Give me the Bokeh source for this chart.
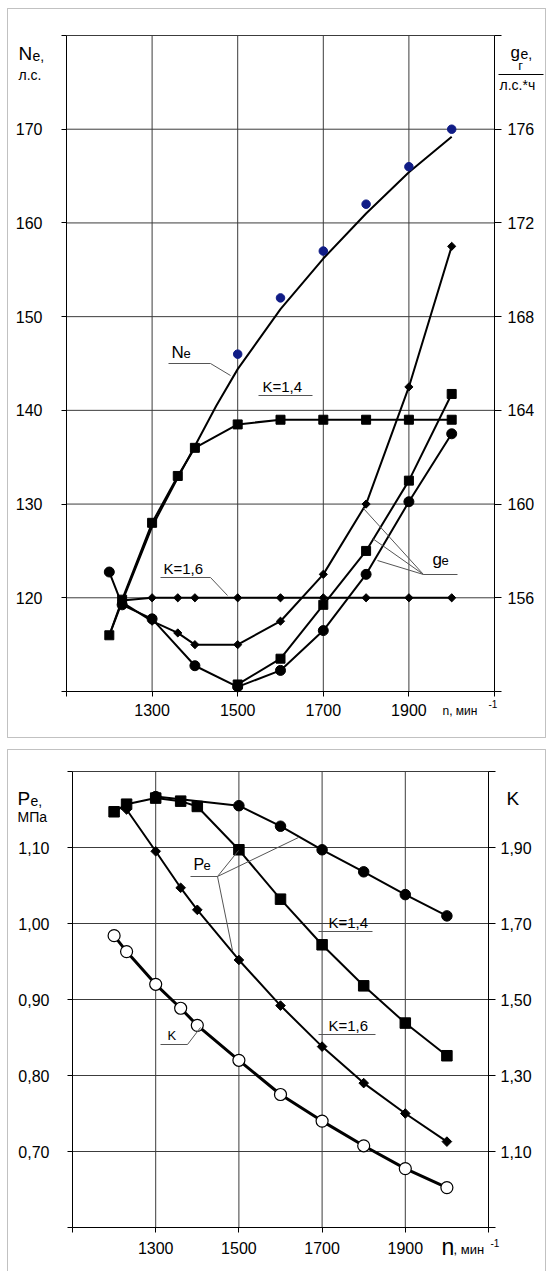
import math
from bokeh.plotting import figure
from bokeh.models import Range1d, LinearAxis, FixedTicker, Label, BoxAnnotation
from bokeh.layouts import column
from bokeh.embed import file_html
from bokeh.resources import INLINE

# ---------------- data: top panel (Ne, ge vs n) ----------------
x_ticks = [1100, 1300, 1500, 1700, 1900, 2100]
x_tick_labels = ["", "1300", "1500", "1700", "1900", ""]

ne_ticks = [110, 120, 130, 140, 150, 160, 170, 180]
ne_tick_labels = ["", "120", "130", "140", "150", "160", "170", ""]
ge_ticks = [152, 156, 160, 164, 168, 172, 176, 180]
ge_tick_labels = ["", "156", "160", "164", "168", "172", "176", ""]

# Ne, K=1,4 (squares)
n_ne14 = [1200, 1230, 1300, 1360, 1400, 1500, 1600, 1700, 1800, 1900, 2000]
ne_k14 = [116.0, 119.8, 128.0, 133.0, 136.0, 138.5, 139.0, 139.0, 139.0, 139.0, 139.0]
# Ne, K=1,6 (small diamonds)
n_ne16 = [1230, 1300, 1360, 1400, 1500, 1600, 1700, 1800, 1900, 2000]
ne_k16 = [119.7, 120.0, 120.0, 120.0, 120.0, 120.0, 120.0, 120.0, 120.0, 120.0]
# Ne measured points (blue)
n_ne_pts = [1500, 1600, 1700, 1800, 1900, 2000]
ne_pts = [146.0, 152.0, 157.0, 162.0, 166.0, 170.0]
# Ne curve (smooth, no markers)
n_ne_curve = [1200, 1230, 1300, 1360, 1400, 1450, 1500, 1600, 1700, 1800, 1900, 2000]
ne_curve = [116.0, 119.6, 127.6, 132.8, 136.2, 140.5, 144.4, 150.8, 156.2, 161.0, 165.4, 169.2]

# ge, K=1,6 (diamonds)
n_ge16 = [1230, 1300, 1360, 1400, 1500, 1600, 1700, 1800, 1900, 2000]
ge_k16 = [155.8, 155.0, 154.5, 154.0, 154.0, 155.0, 157.0, 160.0, 165.0, 171.0]
# ge, K=1,4 (squares)
n_ge14 = [1500, 1600, 1700, 1800, 1900, 2000]
ge_k14 = [152.3, 153.4, 155.7, 158.0, 161.0, 164.7]
# ge, third series (circles)
n_gec = [1200, 1230, 1300, 1400, 1500, 1600, 1700, 1800, 1900, 2000]
ge_circ = [157.1, 155.7, 155.1, 153.1, 152.2, 152.9, 154.6, 157.0, 160.1, 163.0]

# ---------------- data: bottom panel (Pe, K vs n) ----------------
pe_ticks = [0.6, 0.7, 0.8, 0.9, 1.0, 1.1, 1.2]
pe_tick_labels = ["", "0,70", "0,80", "0,90", "1,00", "1,10", ""]
k_ticks = [0.9, 1.1, 1.3, 1.5, 1.7, 1.9, 2.1]
k_tick_labels = ["", "1,10", "1,30", "1,50", "1,70", "1,90", ""]

n_pe14 = [1200, 1230, 1300, 1360, 1400, 1500, 1600, 1700, 1800, 1900, 2000]
pe_k14 = [1.147, 1.157, 1.165, 1.161, 1.154, 1.097, 1.032, 0.972, 0.918, 0.869, 0.826]
n_pe16 = [1230, 1300, 1360, 1400, 1500, 1600, 1700, 1800, 1900, 2000]
pe_k16 = [1.150, 1.095, 1.047, 1.018, 0.952, 0.892, 0.838, 0.790, 0.750, 0.713]
n_pec = [1300, 1500, 1600, 1700, 1800, 1900, 2000]
pe_circ = [1.167, 1.155, 1.128, 1.097, 1.068, 1.038, 1.010]
n_k = [1200, 1230, 1300, 1360, 1400, 1500, 1600, 1700, 1800, 1900, 2000]
k_vals = [1.668, 1.626, 1.540, 1.477, 1.432, 1.340, 1.250, 1.180, 1.115, 1.055, 1.005]

FONT = "Liberation Sans"
GRID = "#3c3c3c"
LEAD = "#555555"
W = 546

# plot-area geometry in page pixels (used to map ranges onto the canvas)
T_L, T_R, T_T, T_B, T_H = 66, 494, 35, 691, 743
B_L, B_R, B_T, B_B, B_OFF, B_H = 72, 488, 771, 1227, 743, 528


def tx(px):
    return x_ticks[0] + (px - T_L) / (T_R - T_L) * (x_ticks[-1] - x_ticks[0])


def ty(py):
    return ne_ticks[-1] - (py - T_T) / (T_B - T_T) * (ne_ticks[-1] - ne_ticks[0])


def bx(px):
    return x_ticks[0] + (px - B_L) / (B_R - B_L) * (x_ticks[-1] - x_ticks[0])


def by(py):
    return pe_ticks[-1] - (py - B_T) / (B_B - B_T) * (pe_ticks[-1] - pe_ticks[0])


def ne_to_ge(v):
    return ge_ticks[0] + (v - ne_ticks[0]) * (ge_ticks[-1] - ge_ticks[0]) / (ne_ticks[-1] - ne_ticks[0])


def pe_to_k(v):
    return k_ticks[0] + (v - pe_ticks[0]) * (k_ticks[-1] - k_ticks[0]) / (pe_ticks[-1] - pe_ticks[0])


def style_axis(ax, ticks, labels, tick_out=5, standoff=10):
    ax.ticker = FixedTicker(ticks=ticks)
    ax.major_label_overrides = dict(zip(ticks, labels))
    ax.major_label_text_font = FONT
    ax.major_label_text_font_size = "16px"
    ax.major_label_text_color = "black"
    ax.axis_line_color = "black"
    ax.axis_line_width = 1
    ax.major_tick_line_color = "black"
    ax.major_tick_in = 0
    ax.major_tick_out = tick_out
    ax.minor_tick_line_color = None
    ax.major_label_standoff = standoff


def make_text(fx, fy):
    def text(p, px, baseline, s, size, align="left", color="black"):
        # place by baseline: "middle" anchor sits ~0.3465 em above the baseline
        cy = baseline - 0.3465 * size
        p.add_layout(Label(x=fx(px), y=fy(cy), text=s, text_font=FONT,
                           text_font_size=f"{size}px", text_align=align,
                           text_baseline="middle", text_color=color))
    return text


def lead(p, fx, fy, pts):
    p.line([fx(a) for a, b in pts], [fy(b) for a, b in pts], line_color=LEAD, line_width=1)


def base_figure(h, xr, yr):
    p = figure(width=W, height=h, x_range=xr, y_range=yr, title=None,
               output_backend="svg", toolbar_location=None,
               min_border_left=0, min_border_right=0, min_border_top=0, min_border_bottom=0)
    p.min_border = 0
    p.outline_line_color = None
    p.background_fill_color = "white"
    p.border_fill_color = "white"
    p.grid.visible = False
    for ax in list(p.xaxis) + list(p.yaxis):
        ax.visible = False
    return p


# ================= TOP FIGURE =================
p1 = base_figure(T_H, Range1d(tx(0), tx(W)), Range1d(ty(T_H), ty(0)))
p1.extra_y_ranges = {"ge": Range1d(ne_to_ge(ty(T_H)), ne_to_ge(ty(0)))}

ax_b = LinearAxis(fixed_location=ne_ticks[0], bounds=(x_ticks[0], x_ticks[-1]))
style_axis(ax_b, x_ticks, x_tick_labels, 5, 7)
p1.add_layout(ax_b, "below")
ax_l = LinearAxis(fixed_location=x_ticks[0], bounds=(ne_ticks[0], ne_ticks[-1]))
style_axis(ax_l, ne_ticks, ne_tick_labels, 5, 19)
p1.add_layout(ax_l, "left")
ax_r = LinearAxis(y_range_name="ge", fixed_location=x_ticks[-1], bounds=(ge_ticks[0], ge_ticks[-1]))
style_axis(ax_r, ge_ticks, ge_tick_labels, 7, 6)
p1.add_layout(ax_r, "right")

# grid lines
gx = x_ticks[1:-1]
p1.segment(gx, [ne_ticks[0]] * len(gx), gx, [ne_ticks[-1]] * len(gx),
           line_color=GRID, line_width=1, level="underlay")
gy = ne_ticks[1:]
p1.segment([x_ticks[0]] * len(gy), gy, [x_ticks[-1]] * len(gy), gy,
           line_color=GRID, line_width=1, level="underlay")

# curves
p1.line(n_ne_curve, ne_curve, line_color="black", line_width=2)
p1.line(n_ne14, ne_k14, line_color="black", line_width=2)
p1.line(n_ne16, ne_k16, line_color="black", line_width=2)
p1.line(n_ge16, ge_k16, line_color="black", line_width=2, y_range_name="ge")
p1.line(n_ge14, ge_k14, line_color="black", line_width=2, y_range_name="ge")
p1.line(n_gec, ge_circ, line_color="black", line_width=2, y_range_name="ge")
# markers
p1.scatter(n_ne14, ne_k14, marker="square", size=9, fill_color="black", line_color="black")
p1.scatter(n_ne16, ne_k16, marker="square", angle=math.pi / 4, size=5.8,
           fill_color="black", line_color="black")
p1.scatter(n_ge16, ge_k16, marker="square", angle=math.pi / 4, size=5.8,
           fill_color="black", line_color="black", y_range_name="ge")
p1.scatter(n_ge14, ge_k14, marker="square", size=9, fill_color="black",
           line_color="black", y_range_name="ge")
p1.scatter(n_gec, ge_circ, marker="circle", size=10, fill_color="black",
           line_color="black", y_range_name="ge")
p1.scatter(n_ne_pts, ne_pts, marker="circle", size=8.5, fill_color="#101c86",
           line_color="#101c86")

# leader lines and curve labels
lead(p1, tx, ty, [(168, 363), (210, 363), (230, 375)])
lead(p1, tx, ty, [(258, 395), (312, 395)])
lead(p1, tx, ty, [(160, 577), (210, 577), (227, 595)])
lead(p1, tx, ty, [(457, 574), (423, 574), (363, 508)])
lead(p1, tx, ty, [(423, 574), (372, 538)])
lead(p1, tx, ty, [(423, 574), (377, 560)])
t1 = make_text(tx, ty)
t1(p1, 171, 358, "N", 17)
t1(p1, 183, 358, "e", 13)
t1(p1, 262, 391, "K=1,4", 15)
t1(p1, 163, 573, "K=1,6", 15)
t1(p1, 432, 565, "g", 17)
t1(p1, 441, 565, "e", 13)

# axis titles
t1(p1, 18, 60, "N", 19)
t1(p1, 32, 60, "e,", 14)
t1(p1, 18, 79, "л.с.", 14)
t1(p1, 510, 58, "g", 17)
t1(p1, 520, 58, "e,", 14)
t1(p1, 520, 70, "г", 13, align="center")
t1(p1, 499, 89, "л.с.*ч", 14)
t1(p1, 442, 715, "n, мин", 12)
t1(p1, 488, 707, "-1", 10)
p1.line([tx(498), tx(543)], [ty(74), ty(74)], line_color="black", line_width=1)

p1.add_layout(BoxAnnotation(left=tx(7), right=tx(545), top=ty(8), bottom=ty(737),
                            fill_alpha=0, line_color="#333333", line_width=1))

# ================= BOTTOM FIGURE =================
p2 = base_figure(B_H, Range1d(bx(0), bx(W)), Range1d(by(B_OFF + B_H), by(B_OFF)))
p2.extra_y_ranges = {"k": Range1d(pe_to_k(by(B_OFF + B_H)), pe_to_k(by(B_OFF)))}

bx_b = LinearAxis(fixed_location=pe_ticks[0], bounds=(x_ticks[0], x_ticks[-1]))
style_axis(bx_b, x_ticks, x_tick_labels, 5, 9)
p2.add_layout(bx_b, "below")
bx_l = LinearAxis(fixed_location=x_ticks[0], bounds=(pe_ticks[0], pe_ticks[-1]))
style_axis(bx_l, pe_ticks, pe_tick_labels, 5, 18)
p2.add_layout(bx_l, "left")
bx_r = LinearAxis(y_range_name="k", fixed_location=x_ticks[-1], bounds=(k_ticks[0], k_ticks[-1]))
style_axis(bx_r, k_ticks, k_tick_labels, 7, 5)
p2.add_layout(bx_r, "right")

gy2 = pe_ticks[1:]
p2.segment(gx, [pe_ticks[0]] * len(gx), gx, [pe_ticks[-1]] * len(gx),
           line_color=GRID, line_width=1, level="underlay")
p2.segment([x_ticks[0]] * len(gy2), gy2, [x_ticks[-1]] * len(gy2), gy2,
           line_color=GRID, line_width=1, level="underlay")

p2.line(n_pe14, pe_k14, line_color="black", line_width=2)
p2.line(n_pe16, pe_k16, line_color="black", line_width=2)
p2.line(n_pec, pe_circ, line_color="black", line_width=2)
p2.line(n_k, k_vals, line_color="black", line_width=3, y_range_name="k")
p2.scatter(n_pe14, pe_k14, marker="square", size=10.5, fill_color="black", line_color="black")
p2.scatter(n_pe16, pe_k16, marker="square", angle=math.pi / 4, size=6.8,
           fill_color="black", line_color="black")
p2.scatter(n_pec, pe_circ, marker="circle", size=10.5, fill_color="black", line_color="black")
p2.scatter(n_k, k_vals, marker="circle", size=12, fill_color="white", line_color="black",
           line_width=1.2, y_range_name="k")

lead(p2, bx, by, [(238, 850), (217, 876), (190, 876)])
lead(p2, bx, by, [(217, 876), (298, 837)])
lead(p2, bx, by, [(217, 876), (232, 950)])
lead(p2, bx, by, [(160, 1044), (187, 1044), (200, 1027)])
lead(p2, bx, by, [(318, 931), (372, 931)])
lead(p2, bx, by, [(318, 1034), (375, 1034)])
t2 = make_text(bx, by)
t2(p2, 193, 870, "P", 16)
t2(p2, 203, 870, "e", 13)
t2(p2, 167, 1040, "K", 13)
t2(p2, 328, 927, "K=1,4", 15)
t2(p2, 328, 1030, "K=1,6", 15)

t2(p2, 17, 805, "P", 19)
t2(p2, 30, 805, "e,", 14)
t2(p2, 17, 821, "МПа", 14)
t2(p2, 506, 805, "K", 19)
t2(p2, 441, 1254, "n", 23)
t2(p2, 453, 1254, ", мин", 13)
t2(p2, 490, 1246, "-1", 10)

p2.add_layout(BoxAnnotation(left=bx(7), right=bx(545), top=by(749), bottom=by(1290),
                            fill_alpha=0, line_color="#333333", line_width=1))

layout = column(p1, p2, spacing=0)
open("out.html", "w").write(file_html(layout, INLINE))
